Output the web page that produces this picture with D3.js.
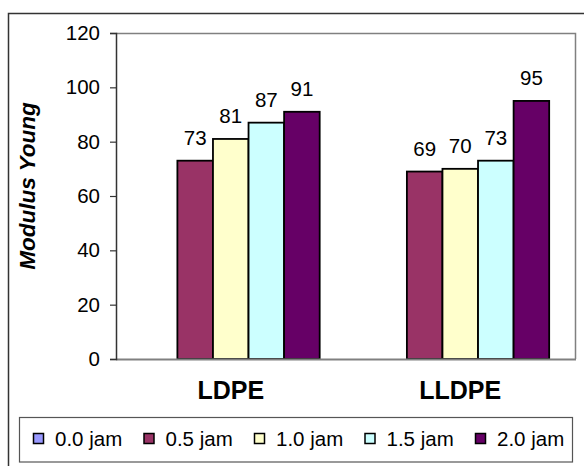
<!DOCTYPE html>
<html>
<head>
<meta charset="utf-8">
<script src="https://cdn.jsdelivr.net/npm/d3@7"></script>
<style>
  html, body { margin: 0; padding: 0; background: #fff; }
  svg { display: block; font-family: "Liberation Sans", Arial, sans-serif; }
</style>
</head>
<body>
<svg id="chart" width="584" height="466"></svg>
<script>
// Young's modulus of LDPE and LLDPE films after exposure time
const categories = ["LDPE", "LLDPE"];
const seriesNames = ["0.0 jam", "0.5 jam", "1.0 jam", "1.5 jam", "2.0 jam"];
const values00 = [null, null];
const values05 = [73, 69];
const values10 = [81, 70];
const values15 = [87, 73];
const values20 = [91, 95];
const seriesColors = ["#9999FF", "#993366", "#FFFFCC", "#CCFFFF", "#660066"];
const yTicks = [0, 20, 40, 60, 80, 100, 120];
const yTitle = "Modulus Young";

const seriesValues = [values00, values05, values10, values15, values20];

const svg = d3.select("#chart");
const plot = { left: 116, right: 575, top: 33, bottom: 359 };

// outer chart frame (runs past the right and bottom edges)
svg.append("rect")
  .attr("x", 8.5).attr("y", 13.5)
  .attr("width", 620).attr("height", 500)
  .attr("fill", "#fff")
  .attr("stroke", "#333").attr("stroke-width", 1.5);

const y = d3.scaleLinear().domain([0, 120]).range([plot.bottom, plot.top]);
const x0 = d3.scaleBand().domain(categories)
  .range([plot.left, plot.right])
  .paddingInner(0.225).paddingOuter(0.1125);
const x1 = d3.scaleBand().domain(seriesNames).range([0, x0.bandwidth()]);

// plot area border (top and right)
svg.append("path")
  .attr("d", `M${plot.left},${plot.top + 0.5}H${plot.right + 0.5}V${plot.bottom}`)
  .attr("fill", "none").attr("stroke", "#808080").attr("stroke-width", 1.5);

// bars
const rows = [];
categories.forEach((c, ci) => {
  seriesNames.forEach((s, si) => {
    const v = seriesValues[si][ci];
    if (v != null) rows.push({ c, s, v, color: seriesColors[si] });
  });
});

svg.append("g").selectAll("rect")
  .data(rows).join("rect")
  .attr("x", d => x0(d.c) + x1(d.s))
  .attr("y", d => y(d.v))
  .attr("width", x1.bandwidth())
  .attr("height", d => y(0) - y(d.v))
  .attr("fill", d => d.color)
  .attr("stroke", "#000").attr("stroke-width", 1.8);

// value labels
svg.append("g").selectAll("text")
  .data(rows).join("text")
  .attr("x", d => x0(d.c) + x1(d.s) + x1.bandwidth() / 2)
  .attr("y", d => y(d.v) - 16)
  .attr("text-anchor", "middle")
  .attr("font-size", 20.5)
  .attr("fill", "#000")
  .text(d => d.v);

// x axis baseline
svg.append("line")
  .attr("x1", plot.left).attr("x2", plot.right + 1)
  .attr("y1", plot.bottom + 0.5).attr("y2", plot.bottom + 0.5)
  .attr("stroke", "#808080").attr("stroke-width", 2);

// y axis
const yAxis = svg.append("g")
  .attr("transform", `translate(${plot.left},0)`)
  .call(d3.axisLeft(y).tickValues(yTicks).tickSize(6).tickPadding(10));
yAxis.select(".domain").attr("stroke", "#333").attr("stroke-width", 1.5);
yAxis.selectAll(".tick line").attr("stroke", "#333").attr("stroke-width", 1.2);
yAxis.selectAll(".tick text")
  .attr("font-size", 20.5)
  .attr("font-family", "'Liberation Sans', Arial, sans-serif")
  .attr("fill", "#000");

// y axis title
svg.append("text")
  .attr("transform", "translate(35,186) rotate(-90)")
  .attr("text-anchor", "middle")
  .attr("font-size", 22.5)
  .attr("font-weight", "bold")
  .attr("font-style", "italic")
  .attr("fill", "#000")
  .text(yTitle);

// category labels
svg.append("g").selectAll("text")
  .data(categories).join("text")
  .attr("x", d => x0(d) + x0.bandwidth() / 2)
  .attr("y", 399)
  .attr("text-anchor", "middle")
  .attr("font-size", 25)
  .attr("font-weight", "bold")
  .attr("fill", "#000")
  .text(d => d);

// legend
const legend = svg.append("g");
legend.append("rect")
  .attr("x", 19.5).attr("y", 417.5)
  .attr("width", 553).attr("height", 44.5)
  .attr("fill", "#fff")
  .attr("stroke", "#555").attr("stroke-width", 1.2);

const legendX = d3.scalePoint().domain(seriesNames).range([33, 475]);
const items = legend.selectAll("g.item")
  .data(seriesNames).join("g")
  .attr("class", "item")
  .attr("transform", d => `translate(${legendX(d)},0)`);
items.append("rect")
  .attr("x", 0.5).attr("y", 433.5)
  .attr("width", 10).attr("height", 10)
  .attr("fill", (d, i) => seriesColors[i])
  .attr("stroke", "#000").attr("stroke-width", 1.5);
items.append("text")
  .attr("x", 22).attr("y", 445.5)
  .attr("font-size", 20.5)
  .attr("fill", "#000")
  .text(d => d);
</script>
</body>
</html>
